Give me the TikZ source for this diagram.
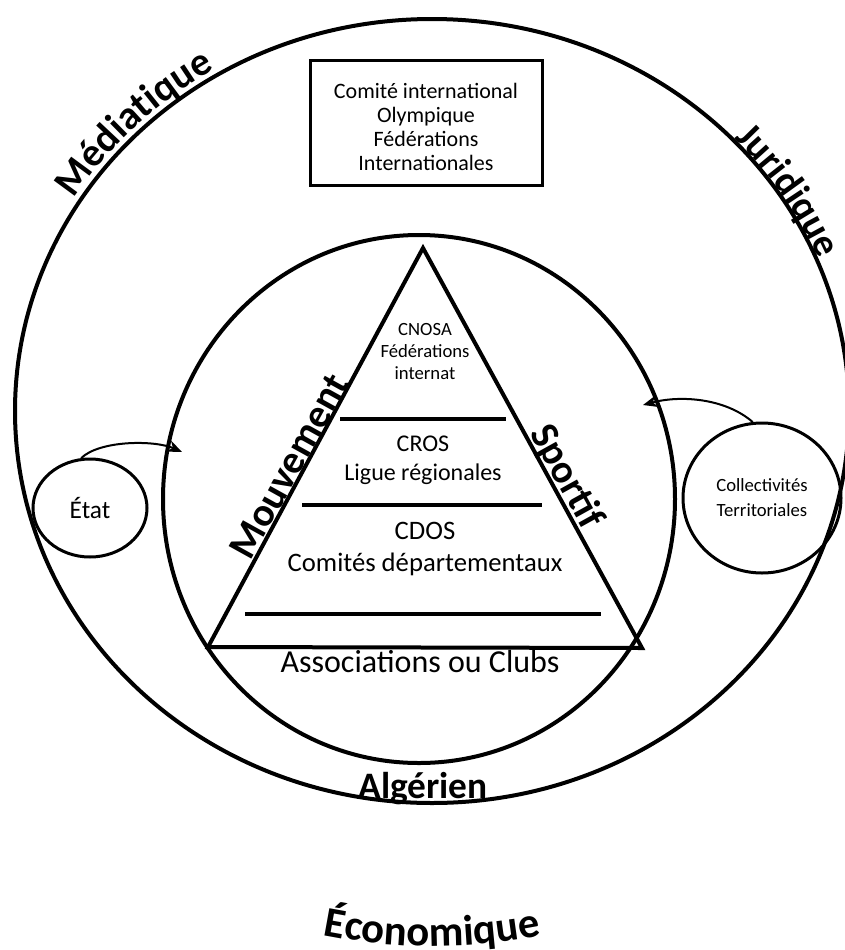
\documentclass[tikz,border=0pt]{standalone}
\usepackage{fontspec}
\setmainfont{Carlito}
\usetikzlibrary{shapes.geometric,arrows.meta,decorations.text}

\tikzset{
  ring/.style={line width=3pt},
  tier/.style={line width=3pt},
  bubble/.style={draw, ellipse, line width=2.25pt, inner sep=0pt},
  bigword/.style={font=\fontsize{30}{34}\selectfont\bfseries, inner sep=0pt},
  linkarrow/.style={line width=1.5pt, -{Stealth[length=11pt,width=9pt]}},
  arcword/.style={decorate, decoration={text along path, text align=center, text={#1}}}
}

\begin{document}
\begin{tikzpicture}[x=0.75pt, y=-0.75pt]
    \useasboundingbox (0,0) rectangle (845,950);

    % the two rings
    \draw[ring] (432,411) ellipse [x radius=417, y radius=392];
    \draw[ring] (419,499) ellipse [x radius=256, y radius=264];

    % the pyramid
    \coordinate (apex) at (423,248);
    \coordinate (baseL) at (208,647);
    \coordinate (baseR) at (642,648);
    \draw[ring, line join=miter] (apex) -- (baseR) -- (baseL) -- cycle;
    \draw[tier] (340,419) -- (506,419);
    \draw[tier] (302,505) -- (542,505);
    \draw[tier] (245,614) -- (601,614);

    % the levels
    \node[font=\fontsize{14}{16.5}\selectfont, align=center] (cnosa) at (425,352) {CNOSA\\Fédérations\\internat};
    \node[font=\fontsize{18}{22}\selectfont, align=center] (cros) at (423,460) {CROS\\Ligue régionales};
    \node[font=\fontsize{20}{24}\selectfont, align=center] (cdos) at (425,549) {CDOS\\Comités départementaux};
    \node[font=\fontsize{24}{28}\selectfont] (clubs) at (420,661) {Associations ou Clubs};

    % the box on top
    \node[draw, line width=2.25pt, minimum width=174pt, minimum height=93.75pt] (cio) at (426,123) {};
    \node[align=center, font=\fontsize{16.5}{18.2}\selectfont] (ciotext) at (426,127)
          {Comité international\\Olympique\\Fédérations\\Internationales};

    % the two partners
    \node[bubble, minimum width=85.5pt, minimum height=73.5pt, font=\fontsize{19}{23}\selectfont] (etat) at (90,508) {État};
    \node[bubble, minimum width=118.5pt, minimum height=112.5pt, align=center,
          font=\fontsize{14}{18.75}\selectfont] (coll) at (762,498) {Collectivités\\Territoriales};

    \coordinate (etatend) at (182,452);
    \coordinate (collend) at (643,405);
    \draw[linkarrow] (etat.100) .. controls (100,440) and (155,440) .. (etatend);
    \draw[linkarrow] (coll.97) .. controls (725,398) and (680,395) .. (collend);

    % words round the rings
    \path[arcword={|\fontsize{30}{34}\selectfont\bfseries|Médiatique}]
        (432,411) ++(204:423 and 398) arc[start angle=204, end angle=247, x radius=423, y radius=398];
    \path[arcword={|\fontsize{29}{34}\selectfont\bfseries|Juridique}]
        (432,411) ++(305:419 and 394) arc[start angle=305, end angle=349, x radius=419, y radius=394];
    \path[arcword={|\fontsize{32}{36}\selectfont\bfseries|Économique}]
        (432,390) ++(107:556) arc[start angle=107, end angle=73, radius=556];

    \node[bigword, rotate=61] (mouv) at (289,466) {Mouvement};
    \node[bigword, rotate=-61] (sport) at (566,477) {Sportif};
    \node[bigword, font=\fontsize{28}{32}\selectfont\bfseries] (alg) at (423,789) {Algérien};
\end{tikzpicture}
\end{document}
